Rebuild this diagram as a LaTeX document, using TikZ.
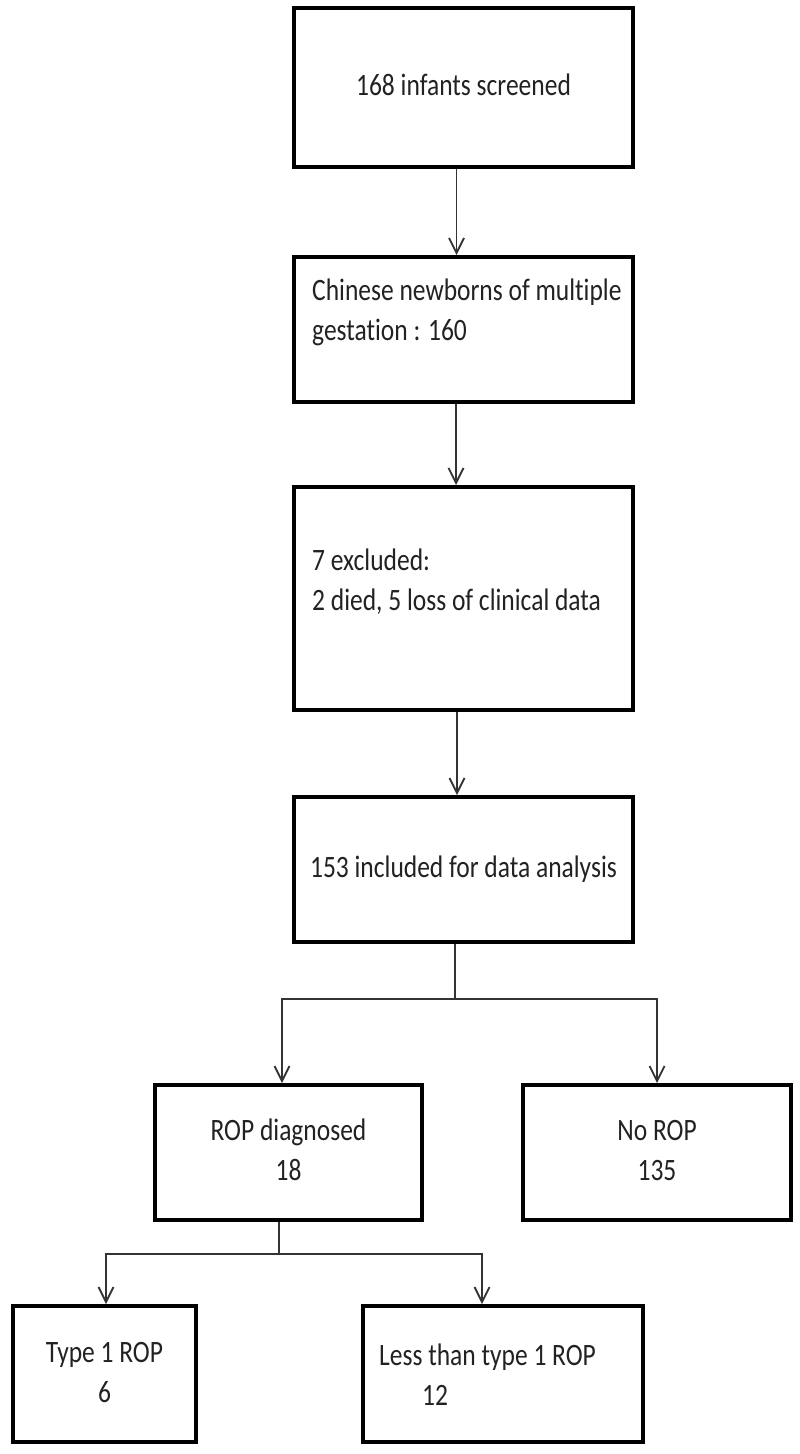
\documentclass[tikz,border=0pt]{standalone}
\usepackage{fontspec}
\usepackage{graphicx}
\setmainfont{Carlito}[Ligatures={NoCommon}]
\usetikzlibrary{arrows.meta}
\definecolor{txt}{HTML}{222222}
\definecolor{conn}{HTML}{333333}
\newcommand{\ctxt}[1]{\scalebox{1}[1.22]{\begin{tabular}{@{}c@{}}#1\end{tabular}}}
\newcommand{\ltxt}[1]{\scalebox{1}[1.22]{\begin{tabular}[t]{@{}l@{}}#1\end{tabular}}}
\begin{document}
\begin{tikzpicture}[x=1pt,y=-1pt,
  box/.style={draw=black, line width=4pt, rectangle, inner sep=0pt, align=center,
    text=txt, font=\fontsize{25.5}{32.8}\selectfont},
  lbl/.style={inner sep=0pt, text=txt, font=\fontsize{25.5}{32.8}\selectfont},
  link/.style={draw=conn, line width=1.8pt},
  arr/.style={link, -{Straight Barb[length=15pt,width=15pt,line width=1.8pt]}}]
\useasboundingbox (0,0) rectangle (800,1454);
\fill[white] (0,0) rectangle (800,1454);

\node[box, minimum width=339pt, minimum height=159pt] (b1) at (463.5,87.5) {\ctxt{168 infants screened}};
\node[box, minimum width=339pt, minimum height=145pt] (b2) at (463.5,329.5) {};
\node[box, minimum width=339pt, minimum height=223pt] (b3) at (463.5,598.5) {};
\node[box, minimum width=339pt, minimum height=145pt] (b4) at (463.5,869.5) {\ctxt{153 included for data analysis}};
\node[box, minimum width=267pt, minimum height=135pt] (b5) at (288.5,1152.5) {\ctxt{ROP diagnosed\\18}};
\node[box, minimum width=268pt, minimum height=135pt] (b6) at (657,1152.5) {\ctxt{No ROP\\135}};
\node[box, minimum width=183pt, minimum height=136pt] (b7) at (104.5,1374) {\ctxt{Type 1 ROP\\6}};
\node[box, minimum width=280pt, minimum height=136pt] (b8) at (503,1374) {};

\node[lbl, anchor=base west] (t2) at (312,300) {\ltxt{Chinese newborns of multiple\\gestation : 160}};
\node[lbl, anchor=base west] (t3) at (312,570) {\ltxt{7 excluded:\\2 died, 5 loss of clinical data}};
\node[lbl, anchor=base west] (t8) at (379,1365) {\ltxt{Less than type 1 ROP\\\hspace*{43pt}12}};

\draw[arr] ([xshift=-7pt]b1.south) -- ([xshift=-7pt]b2.north);
\draw[arr] ([xshift=-7.5pt]b2.south) -- ([xshift=-7.5pt]b3.north);
\draw[arr] ([xshift=-6.5pt]b3.south) -- ([xshift=-6.5pt]b4.north);

\coordinate (j1) at (455,999);
\draw[link] ([xshift=-8.5pt]b4.south) -- (j1);
\draw[arr] (j1) -| ([xshift=-6.5pt]b5.north);
\draw[arr] (j1) -| (b6.north);

\coordinate (j2) at (279,1254);
\draw[link] ([xshift=-9.5pt]b5.south) -- (j2);
\draw[arr] (j2) -| ([xshift=1.5pt]b7.north);
\draw[arr] (j2) -| ([xshift=-21pt]b8.north);
\end{tikzpicture}
\end{document}
